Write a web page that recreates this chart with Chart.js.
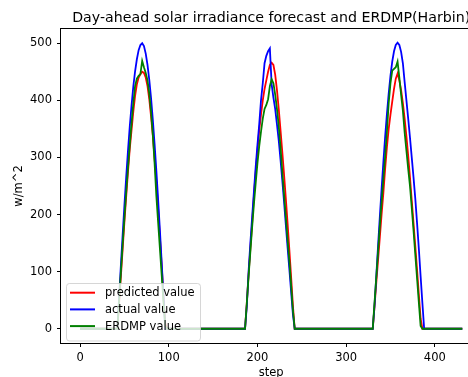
<!DOCTYPE html>
<html>
<head>
<meta charset="utf-8">
<script src="https://cdn.jsdelivr.net/npm/chart.js@4"></script>
<style>
  html, body { margin: 0; padding: 0; background: #fff; overflow: hidden; }
  #wrap { width: 468px; height: 377px; overflow: hidden; }
</style>
</head>
<body>
<div id="wrap"><canvas id="chart" width="490" height="377"></canvas></div>
<script>
// steps within one day (10-min steps, 144 per day) and day start offsets
const stepsInDay = [0, 42, 44, 46, 48, 50, 52, 54, 56, 58, 60, 62, 64, 66, 68, 70, 72, 74, 76, 78, 80, 82, 84, 86, 88, 90, 92, 94, 96, 98, 100, 143];
const dayStart = [0, 144, 288];

const predictedDays = [
    [0, 0,45,92,140,188,232,275,315,348,380,408,428,440,446,450,448,440,425,402,372,338,298,258,210,160,110,58,10,0,0, 0],
    [0, 0,45,95,140,185,232,275,312,348,375,400,420,435,450,462,466,462,445,418,385,348,310,270,228,184,138,90,40,0,0, 0],
    [0, 0,38,80,120,160,200,238,280,318,350,375,398,420,438,447,435,418,395,368,337,303,265,225,185,145,103,60,18,0,0, 0]
];
const actualDays = [
    [0, 0,56,112,165,217,266,312,354,391,424,451,472,488,497,500,495,482,462,436,404,366,323,276,226,172,116,58,0,0,0, 0],
    [0, 0,40,100,150,195,240,283,322,358,400,430,465,478,486,491,428,405,385,358,330,296,260,222,182,142,104,64,25,0,0, 0],
    [0, 0,40,92,145,196,245,292,336,376,412,443,468,486,497,501,497,485,465,432,400,368,335,300,265,228,185,140,92,45,0, 0]
];
const erdmpDays = [
    [0, 0,50,100,148,195,240,282,322,360,395,425,438,443,446,469,458,448,435,412,380,340,290,232,186,140,94,48,5,0,0, 0],
    [0, 0,45,92,135,178,218,255,290,320,345,368,385,392,402,425,437,430,410,385,355,318,275,235,195,155,118,75,32,0,0, 0],
    [0, 0,45,90,135,180,222,262,302,345,395,430,452,455,458,468,440,410,382,344,312,280,250,212,172,130,88,46,5,0,0, 0]
];

const seriesLabels = ['predicted value', 'actual value', 'ERDMP value'];
const seriesColors = ['#ff0000', '#0000ff', '#008000'];
const xTickValues = [0, 100, 200, 300, 400];
const yTickValues = [0, 100, 200, 300, 400, 500];

const titleText = 'Day-ahead solar irradiance forecast and ERDMP(Harbin)';
const xLabel = 'step';
const yLabel = 'w/m^2';

const FONT = "'DejaVu Sans', sans-serif";

function buildPoints(days) {
    return days.flatMap((vals, d) => stepsInDay.map((s, i) => ({ x: dayStart[d] + s, y: vals[i] })));
}

// title, axis labels, frame and legend, drawn like matplotlib
const decorations = {
    id: 'decorations',
    afterDatasetsDraw(chart) {
        const ctx = chart.ctx;
        const a = chart.chartArea;
        const cx = (a.left + a.right) / 2;
        ctx.save();
        ctx.fillStyle = '#000';

        ctx.font = '14.2px ' + FONT;
        ctx.textAlign = 'center';
        ctx.textBaseline = 'alphabetic';
        ctx.fillText(titleText, cx, 22);

        ctx.font = '11.5px ' + FONT;
        ctx.textBaseline = 'middle';
        ctx.fillText(xLabel, cx, 373);

        ctx.save();
        ctx.translate(19, (a.top + a.bottom) / 2);
        ctx.rotate(-Math.PI / 2);
        ctx.fillText(yLabel, 0, 0);
        ctx.restore();

        // legend
        const lx = 66.5, ly = 283.5, lw = 134, lh = 57.5, r = 3;
        ctx.beginPath();
        ctx.moveTo(lx + r, ly);
        ctx.arcTo(lx + lw, ly, lx + lw, ly + lh, r);
        ctx.arcTo(lx + lw, ly + lh, lx, ly + lh, r);
        ctx.arcTo(lx, ly + lh, lx, ly, r);
        ctx.arcTo(lx, ly, lx + lw, ly, r);
        ctx.closePath();
        ctx.fillStyle = 'rgba(255,255,255,0.8)';
        ctx.fill();
        ctx.strokeStyle = 'rgba(204,204,204,0.8)';
        ctx.lineWidth = 1;
        ctx.stroke();

        ctx.textAlign = 'left';
        ctx.font = '11.5px ' + FONT;
        seriesLabels.forEach((lab, i) => {
            const y = 292.7 + i * 16.7;
            ctx.strokeStyle = seriesColors[i];
            ctx.lineWidth = 2;
            ctx.beginPath();
            ctx.moveTo(70, y);
            ctx.lineTo(95, y);
            ctx.stroke();
            ctx.fillStyle = '#000';
            ctx.fillText(lab, 105, y + 0.5);
        });

        // frame
        ctx.strokeStyle = '#000';
        ctx.lineWidth = 1;
        ctx.strokeRect(Math.round(a.left) - 0.5, Math.round(a.top) - 0.5,
            Math.round(a.right - a.left) + 1, Math.round(a.bottom - a.top) + 1);
        ctx.restore();
    }
};

new Chart(document.getElementById('chart').getContext('2d'), {
    type: 'line',
    data: {
        datasets: [
            { label: seriesLabels[0], data: buildPoints(predictedDays), borderColor: seriesColors[0], order: 3 },
            { label: seriesLabels[1], data: buildPoints(actualDays), borderColor: seriesColors[1], order: 2 },
            { label: seriesLabels[2], data: buildPoints(erdmpDays), borderColor: seriesColors[2], order: 1 }
        ]
    },
    options: {
        responsive: false,
        animation: false,
        devicePixelRatio: 1,
        layout: { padding: { left: 0, top: 29, right: 8.6, bottom: 0 } },
        elements: {
            line: { borderWidth: 1.8, tension: 0, fill: false },
            point: { radius: 0 }
        },
        plugins: {
            legend: { display: false },
            title: { display: false },
            tooltip: { enabled: false }
        },
        scales: {
            x: {
                type: 'linear',
                min: -21.55,
                max: 452.55,
                afterFit: s => { s.height = 34; },
                afterBuildTicks: s => { s.ticks = xTickValues.map(v => ({ value: v })); },
                border: { display: false },
                grid: { drawOnChartArea: false, drawTicks: true, tickLength: 4, color: '#000' },
                ticks: { autoSkip: false, maxRotation: 0, padding: 4, color: '#000', font: { family: FONT, size: 11.5 } }
            },
            y: {
                type: 'linear',
                min: -25,
                max: 525,
                afterFit: s => { s.width = 61; },
                afterBuildTicks: s => { s.ticks = yTickValues.map(v => ({ value: v })); },
                border: { display: false },
                grid: { drawOnChartArea: false, drawTicks: true, tickLength: 4, color: '#000' },
                ticks: { autoSkip: false, padding: 5, color: '#000', font: { family: FONT, size: 11.5 } }
            }
        }
    },
    plugins: [decorations]
});
</script>
</body>
</html>
